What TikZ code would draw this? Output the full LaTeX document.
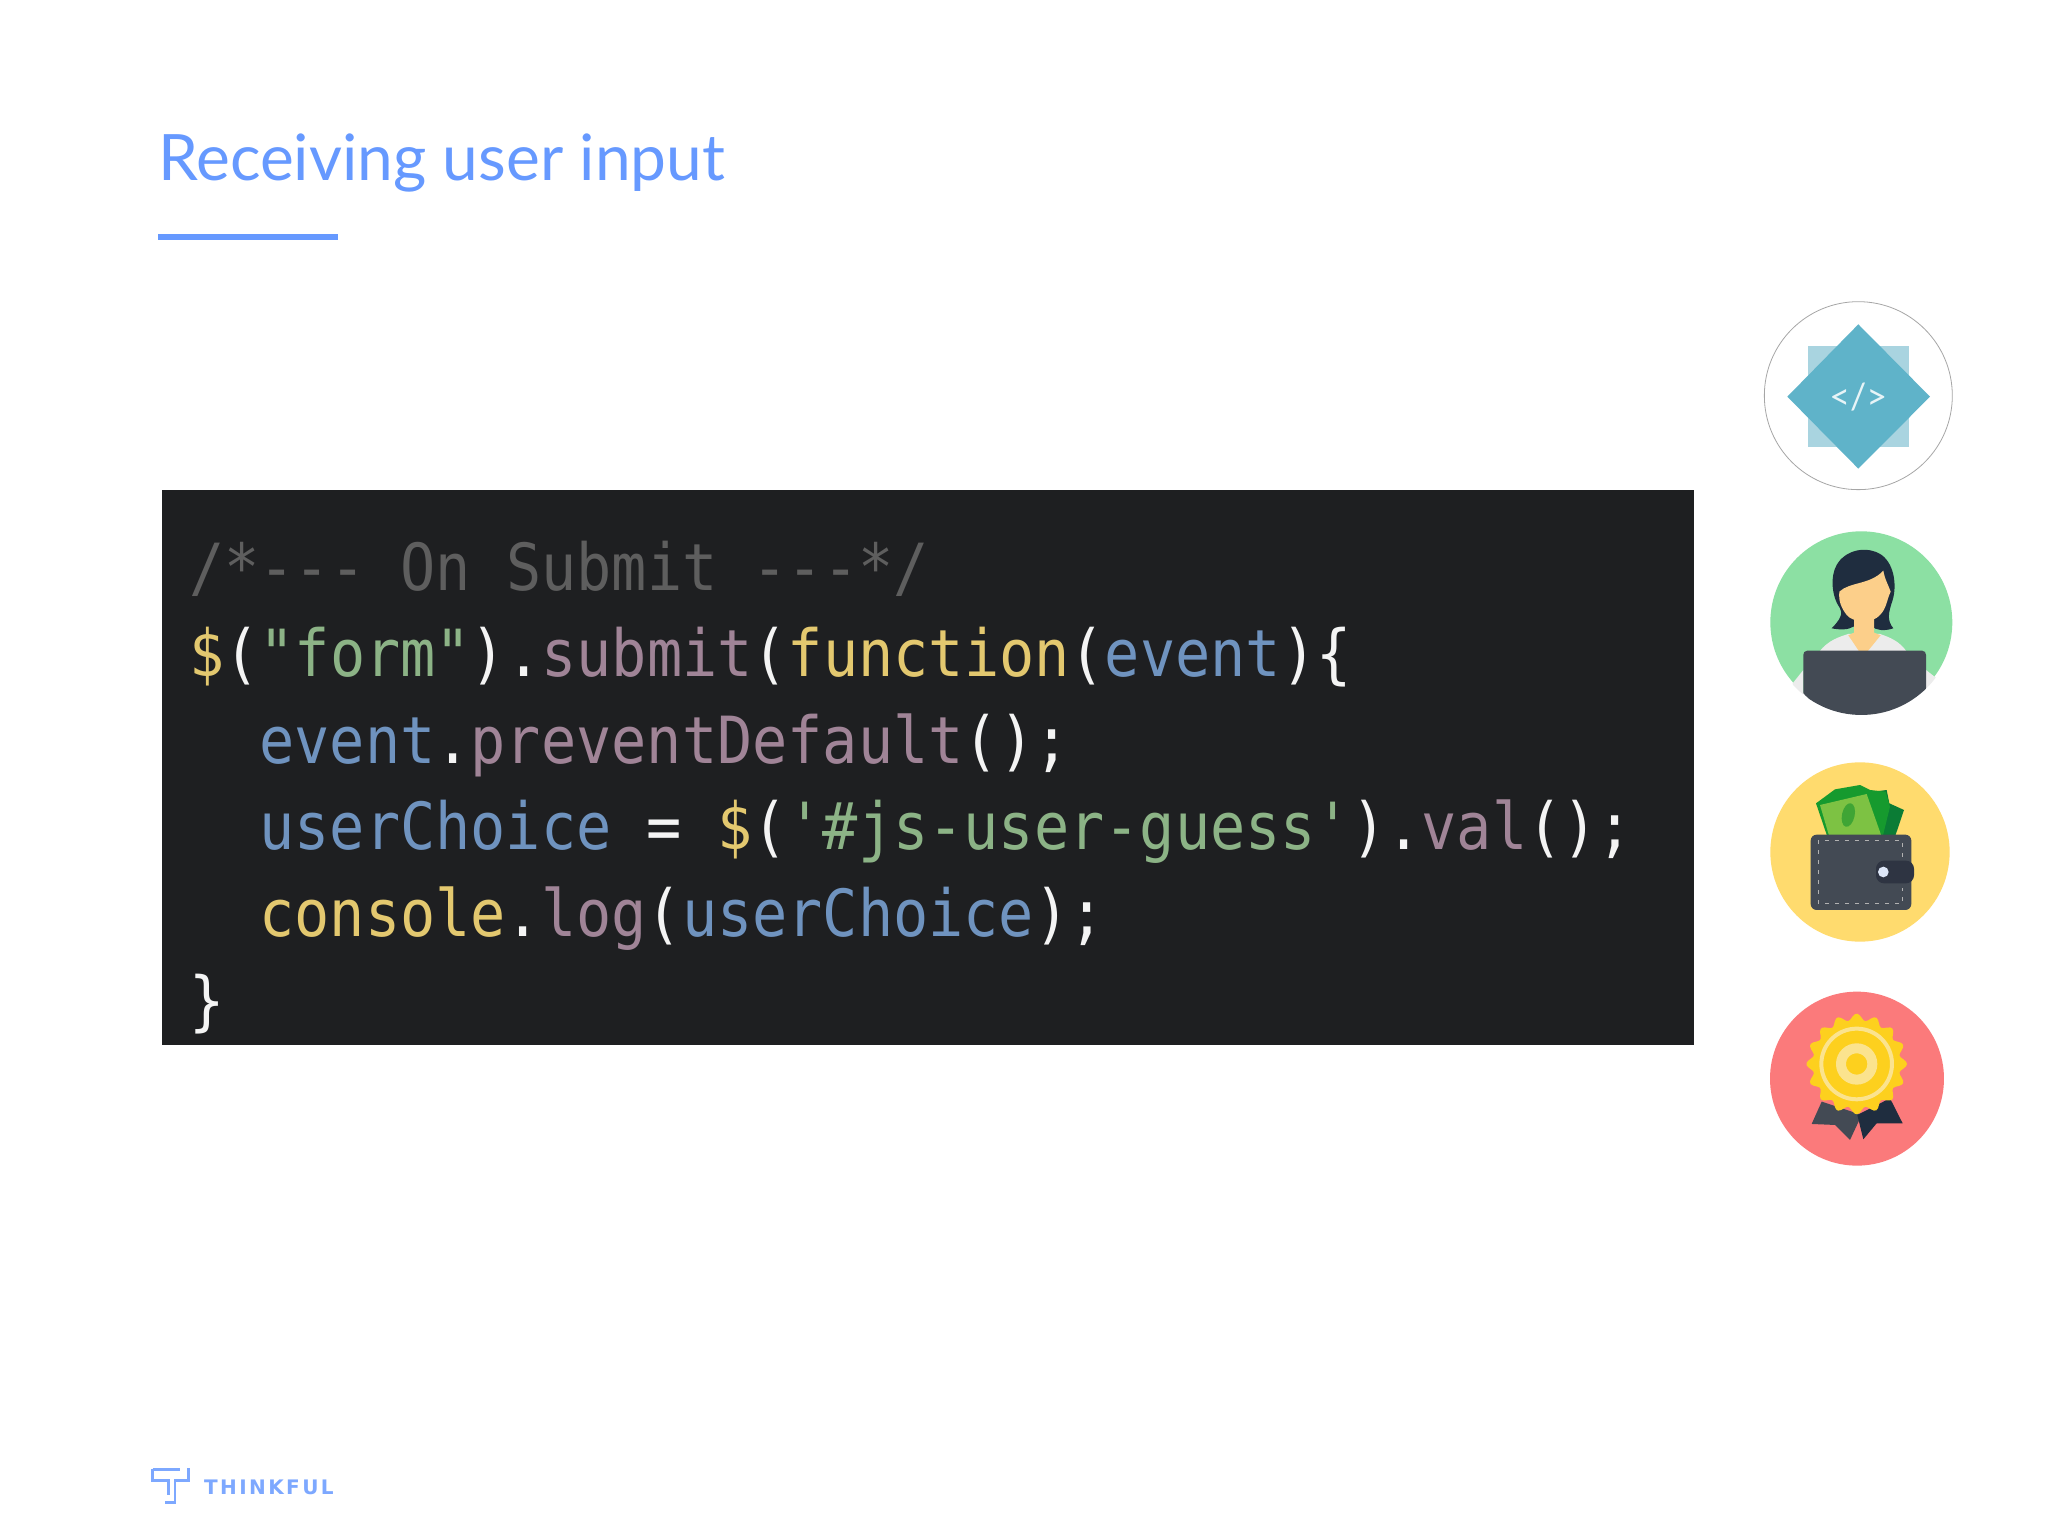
\documentclass[tikz,border=0pt]{standalone}
\usepackage{fontspec}
\usetikzlibrary{positioning}
\newfontfamily\titlefont{Lato}
\newfontfamily\logofont[LetterSpace=12]{DejaVu Sans}
\newfontfamily\codefont[FakeStretch=0.9,Ligatures=NoCommon]{DejaVu Sans Mono}
\definecolor{thinkblue}{HTML}{6699FF}
\definecolor{boxdark}{HTML}{1E1F21}
\definecolor{codegrey}{HTML}{5E5E5E}
\definecolor{codeyellow}{HTML}{E3C86F}
\definecolor{codegreen}{HTML}{8CB386}
\definecolor{codepurple}{HTML}{A08497}
\definecolor{codeblue}{HTML}{6F93BF}
\definecolor{codewhite}{HTML}{F4F4F4}
\definecolor{teallight}{HTML}{A9D4E0}
\definecolor{tealdark}{HTML}{5FB3C9}
\definecolor{slate}{HTML}{434A54}
\definecolor{navy}{HTML}{1F2D3F}
\definecolor{skin}{HTML}{FCCF8A}
\definecolor{seal}{HTML}{FDD01E}
\definecolor{sealring}{HTML}{FBE38E}
\newcommand{\tokY}[1]{\textcolor{codeyellow}{#1}}
\newcommand{\tokG}[1]{\textcolor{codegreen}{#1}}
\newcommand{\tokP}[1]{\textcolor{codepurple}{#1}}
\newcommand{\tokB}[1]{\textcolor{codeblue}{#1}}
\tikzset{
  codeline/.style={anchor=base west,inner sep=0pt,text=codewhite,font=\codefont\fontsize{65}{65}\selectfont},
  nextline/.style={below=86.6pt of #1.base west,anchor=base west},
  iconframe/.style={shift={(#1)},x=.3333pt,y=-.3333pt},
}
\begin{document}
\begin{tikzpicture}[x=1pt,y=-1pt]
  \useasboundingbox[fill=white] (0,0) rectangle (2048,1536);

  \node[anchor=base west,inner sep=0pt,text=thinkblue,font=\titlefont\fontsize{64}{64}\selectfont] (title) at (158,180) {Receiving user input};
  \fill[thinkblue] (158,234) rectangle (338,240);

  \fill[boxdark] (162,490) rectangle (1694,1045);
  \node[codeline,text=codegrey] (line1) at (189,590) {/*--- On Submit ---*/};
  \node[codeline,nextline=line1] (line2) {\tokY{\$}(\tokG{"form"}).\tokP{submit}(\tokY{function}(\tokB{event})\{};
  \node[codeline,nextline=line2,xshift=70.2pt] (line3) {\tokB{event}.\tokP{preventDefault}();};
  \node[codeline,nextline=line3] (line4) {\tokB{userChoice} = \tokY{\$}(\tokG{'\#js-user-guess'}).\tokP{val}();};
  \node[codeline,nextline=line4] (line5) {\tokY{console}.\tokP{log}(\tokB{userChoice});};
  \node[codeline,nextline=line5,xshift=-70.2pt] (line6) {\}};

  \begin{scope}[iconframe={1720,280}]
    \draw[gray!70,fill=white,line width=.8pt] (415,347) circle[radius=282];
    \fill[teallight] (265,198) rectangle (568,500);
    \fill[tealdark] (415,133) -- (630,350) -- (415,566) -- (202,350) -- cycle;
    \node[inner sep=0pt,text=white!85!tealdark,font=\titlefont\fontsize{36}{36}\selectfont] (codetag) at (415,350) {</>};
  \end{scope}

  \begin{scope}[iconframe={1720,280}]
    \fill[green!0,fill={rgb,255:red,140;green,224;blue,163}] (424,1027) circle[radius=273];
    \begin{scope}
      \clip (424,1027) circle[radius=278];
      \fill[gray!15] (218,1210) -- (250,1170) -- (250,1255) -- (600,1255) -- (618,1170) -- (650,1195) -- (640,1300) -- (230,1300) -- cycle;
      \fill[gray!15] (298,1115) .. controls (325,1080) and (360,1070) .. (385,1062) -- (480,1062) .. controls (510,1072) and (540,1085) .. (560,1115) -- cycle;
      \fill[navy] (335,1045) .. controls (360,1020) and (370,1000) .. (360,985) .. controls (335,950) and (330,890) .. (350,855) .. controls (375,810) and (440,795) .. (485,825) .. controls (525,855) and (530,920) .. (518,960) .. controls (505,1000) and (500,1020) .. (520,1045) .. controls (490,1055) and (470,1050) .. (455,1040) -- (400,1040) .. controls (385,1050) and (360,1050) .. (335,1045) -- cycle;
      \fill[skin] (402,1015) -- (462,1015) -- (462,1058) -- (482,1066) -- (442,1115) -- (418,1115) -- (385,1066) -- (402,1058) -- cycle;
      \fill[skin] (358,935) .. controls (390,905) and (450,915) .. (490,872) .. controls (495,900) and (505,915) .. (512,935) .. controls (500,960) and (500,985) .. (480,1005) .. controls (460,1030) and (400,1030) .. (380,1005) .. controls (365,985) and (355,965) .. (358,935) -- cycle;
      \fill[slate] (262,1112) -- (606,1112) .. controls (614,1112) and (618,1118) .. (618,1125) -- (618,1235) .. controls (570,1285) and (490,1306) .. (430,1306) .. controls (360,1306) and (290,1285) .. (250,1240) -- (250,1125) .. controls (250,1118) and (254,1112) .. (262,1112) -- cycle;
    \end{scope}
  \end{scope}

  \begin{scope}[iconframe={1720,740}]
    \fill[fill={rgb,255:red,255;green,219;blue,110}] (420,336) circle[radius=269];
    \fill[fill={rgb,255:red,11;green,124;blue,53}] (460,155) -- (500,150) -- (508,190) -- (552,210) -- (525,290) -- (440,290) -- cycle;
    \fill[fill={rgb,255:red,22;green,154;blue,46}] (345,148) -- (420,135) -- (450,150) -- (497,155) -- (510,200) -- (488,290) -- (322,290) -- (288,190) -- cycle;
    \fill[fill={rgb,255:red,125;green,194;blue,67}] (300,195) -- (440,162) -- (485,290) -- (328,290) -- cycle;
    \fill[fill={rgb,255:red,63;green,165;blue,53},rotate around={-12:(385,225)}] (385,225) ellipse[x radius=19,y radius=36];
    \fill[slate,rounded corners=6pt] (272,284) rectangle (574,510);
    \draw[gray!60,line width=1.2pt,dash pattern=on 4pt off 6pt] (548,350) -- (548,302) -- (295,302) -- (295,490) -- (548,490) -- (548,445);
    \fill[fill={rgb,255:red,46;green,52;blue,66},rounded corners=8pt] (468,362) rectangle (582,430);
    \fill[fill={rgb,255:red,221;green,230;blue,247}] (490,396) circle[radius=16];
  \end{scope}

  \begin{scope}[iconframe={1720,740}]
    \fill[fill={rgb,255:red,251;green,122;blue,123}] (411,1016) circle[radius=261];
    \fill[slate] (305,1085) -- (275,1152) -- (345,1155) -- (390,1200) -- (425,1125) -- cycle;
    \fill[navy] (510,1075) -- (548,1150) -- (470,1150) -- (430,1198) -- (412,1125) -- cycle;
    \fill[seal] plot[smooth cycle,samples=129,domain=0:357.2] ({410+(141+10*cos(16*\x))*cos(\x)},{972+(141+10*cos(16*\x))*sin(\x)});
    \draw[sealring,line width=4pt] (410,972) circle[radius=106];
    \draw[sealring,line width=10pt] (410,972) circle[radius=47];
  \end{scope}

  \begin{scope}[iconframe={130,1440}]
    \draw[thinkblue!85,line width=2.8pt] (68,88) -- (150,88);
    \draw[thinkblue!85,line width=2.8pt] (68,88) -- (68,122) -- (115,122) -- (115,165);
    \draw[thinkblue!85,line width=2.8pt] (175,85) -- (175,122) -- (135,122) -- (135,187) -- (105,187);
  \end{scope}
  \node[anchor=base west,inner sep=0pt,text=thinkblue!85,font=\logofont\bfseries\fontsize{20}{20}\selectfont] (logo) at (204,1494) {THINKFUL};
\end{tikzpicture}
\end{document}
